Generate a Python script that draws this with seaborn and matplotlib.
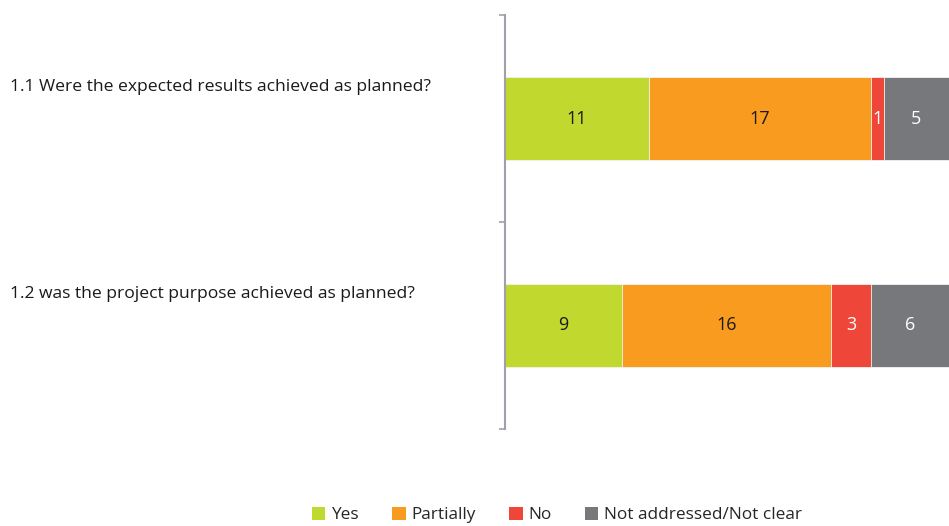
import matplotlib
matplotlib.use("Agg")
import matplotlib.pyplot as plt
import matplotlib.transforms as mtransforms
from matplotlib.patches import Patch
import numpy as np
import pandas as pd
import seaborn as sns

questions = [
    "1.1 Were the expected results achieved as planned?",
    "1.2 was the project purpose achieved as planned?",
]
categories = ["Yes", "Partially", "No", "Not addressed/Not clear"]
yes = [11, 9]
partially = [17, 16]
no = [1, 3]
not_clear = [5, 6]

colors = ["#C1D82F", "#F89B1F", "#EF463A", "#77787B"]
label_colors = ["#1a1a1a", "#1a1a1a", "white", "white"]

sns.set_theme(style="white")
plt.rcParams["font.family"] = ["Open Sans", "DejaVu Sans"]

series = [yes, partially, no, not_clear]
values = np.array(series, dtype=float)
cum = np.cumsum(values, axis=0)

fig = plt.figure(figsize=(9.49, 5.26), dpi=100)
ax = fig.add_axes([0.532, 1 - 429 / 526, 1 - 0.532, (429 - 15) / 526])

# stacked bars: draw cumulative totals from the outermost segment inward
for i in range(len(categories) - 1, -1, -1):
    df = pd.DataFrame({"question": questions, "value": cum[i]})
    sns.barplot(data=df, x="value", y="question", orient="h", color=colors[i],
                width=0.4, ax=ax, saturation=1, edgecolor="#f4f4f4", linewidth=0.6)

# segment value labels
for j in range(len(questions)):
    for i in range(len(categories)):
        start = cum[i, j] - values[i, j]
        ax.text(start + values[i, j] / 2, j, f"{int(values[i, j])}",
                ha="center", va="center", fontsize=13, color=label_colors[i])

total = cum[-1].max()
ax.set_xlim(0, total)
ax.set_ylim(1.5, -0.5)
ax.set_xlabel("")
ax.set_ylabel("")
ax.set_xticks([])
ax.set_yticks([-0.5, 0.5, 1.5])
ax.set_yticklabels([])
ax.tick_params(axis="y", direction="out", length=4, width=1.2, color="#A0A0A8", left=True)
for side in ["top", "right", "bottom"]:
    ax.spines[side].set_visible(False)
ax.spines["left"].set_color("#A0A0A8")
ax.spines["left"].set_linewidth(1.5)

# question labels, left-aligned at the figure margin
trans = mtransforms.blended_transform_factory(fig.transFigure, ax.transData)
for j, q in enumerate(questions):
    ax.text(10 / 949, j - 0.15, q, transform=trans, ha="left", va="center",
            fontsize=12.6, color="#1a1a1a")

handles = [Patch(facecolor=c, edgecolor="none") for c in colors]
fig.legend(handles, categories, loc="center", bbox_to_anchor=(557 / 949, 1 - 515 / 526),
           ncol=4, frameon=False, fontsize=12.4, handlelength=0.8, handleheight=0.8,
           handletextpad=0.35, columnspacing=1.9)

fig.savefig("out.png", dpi=100)
